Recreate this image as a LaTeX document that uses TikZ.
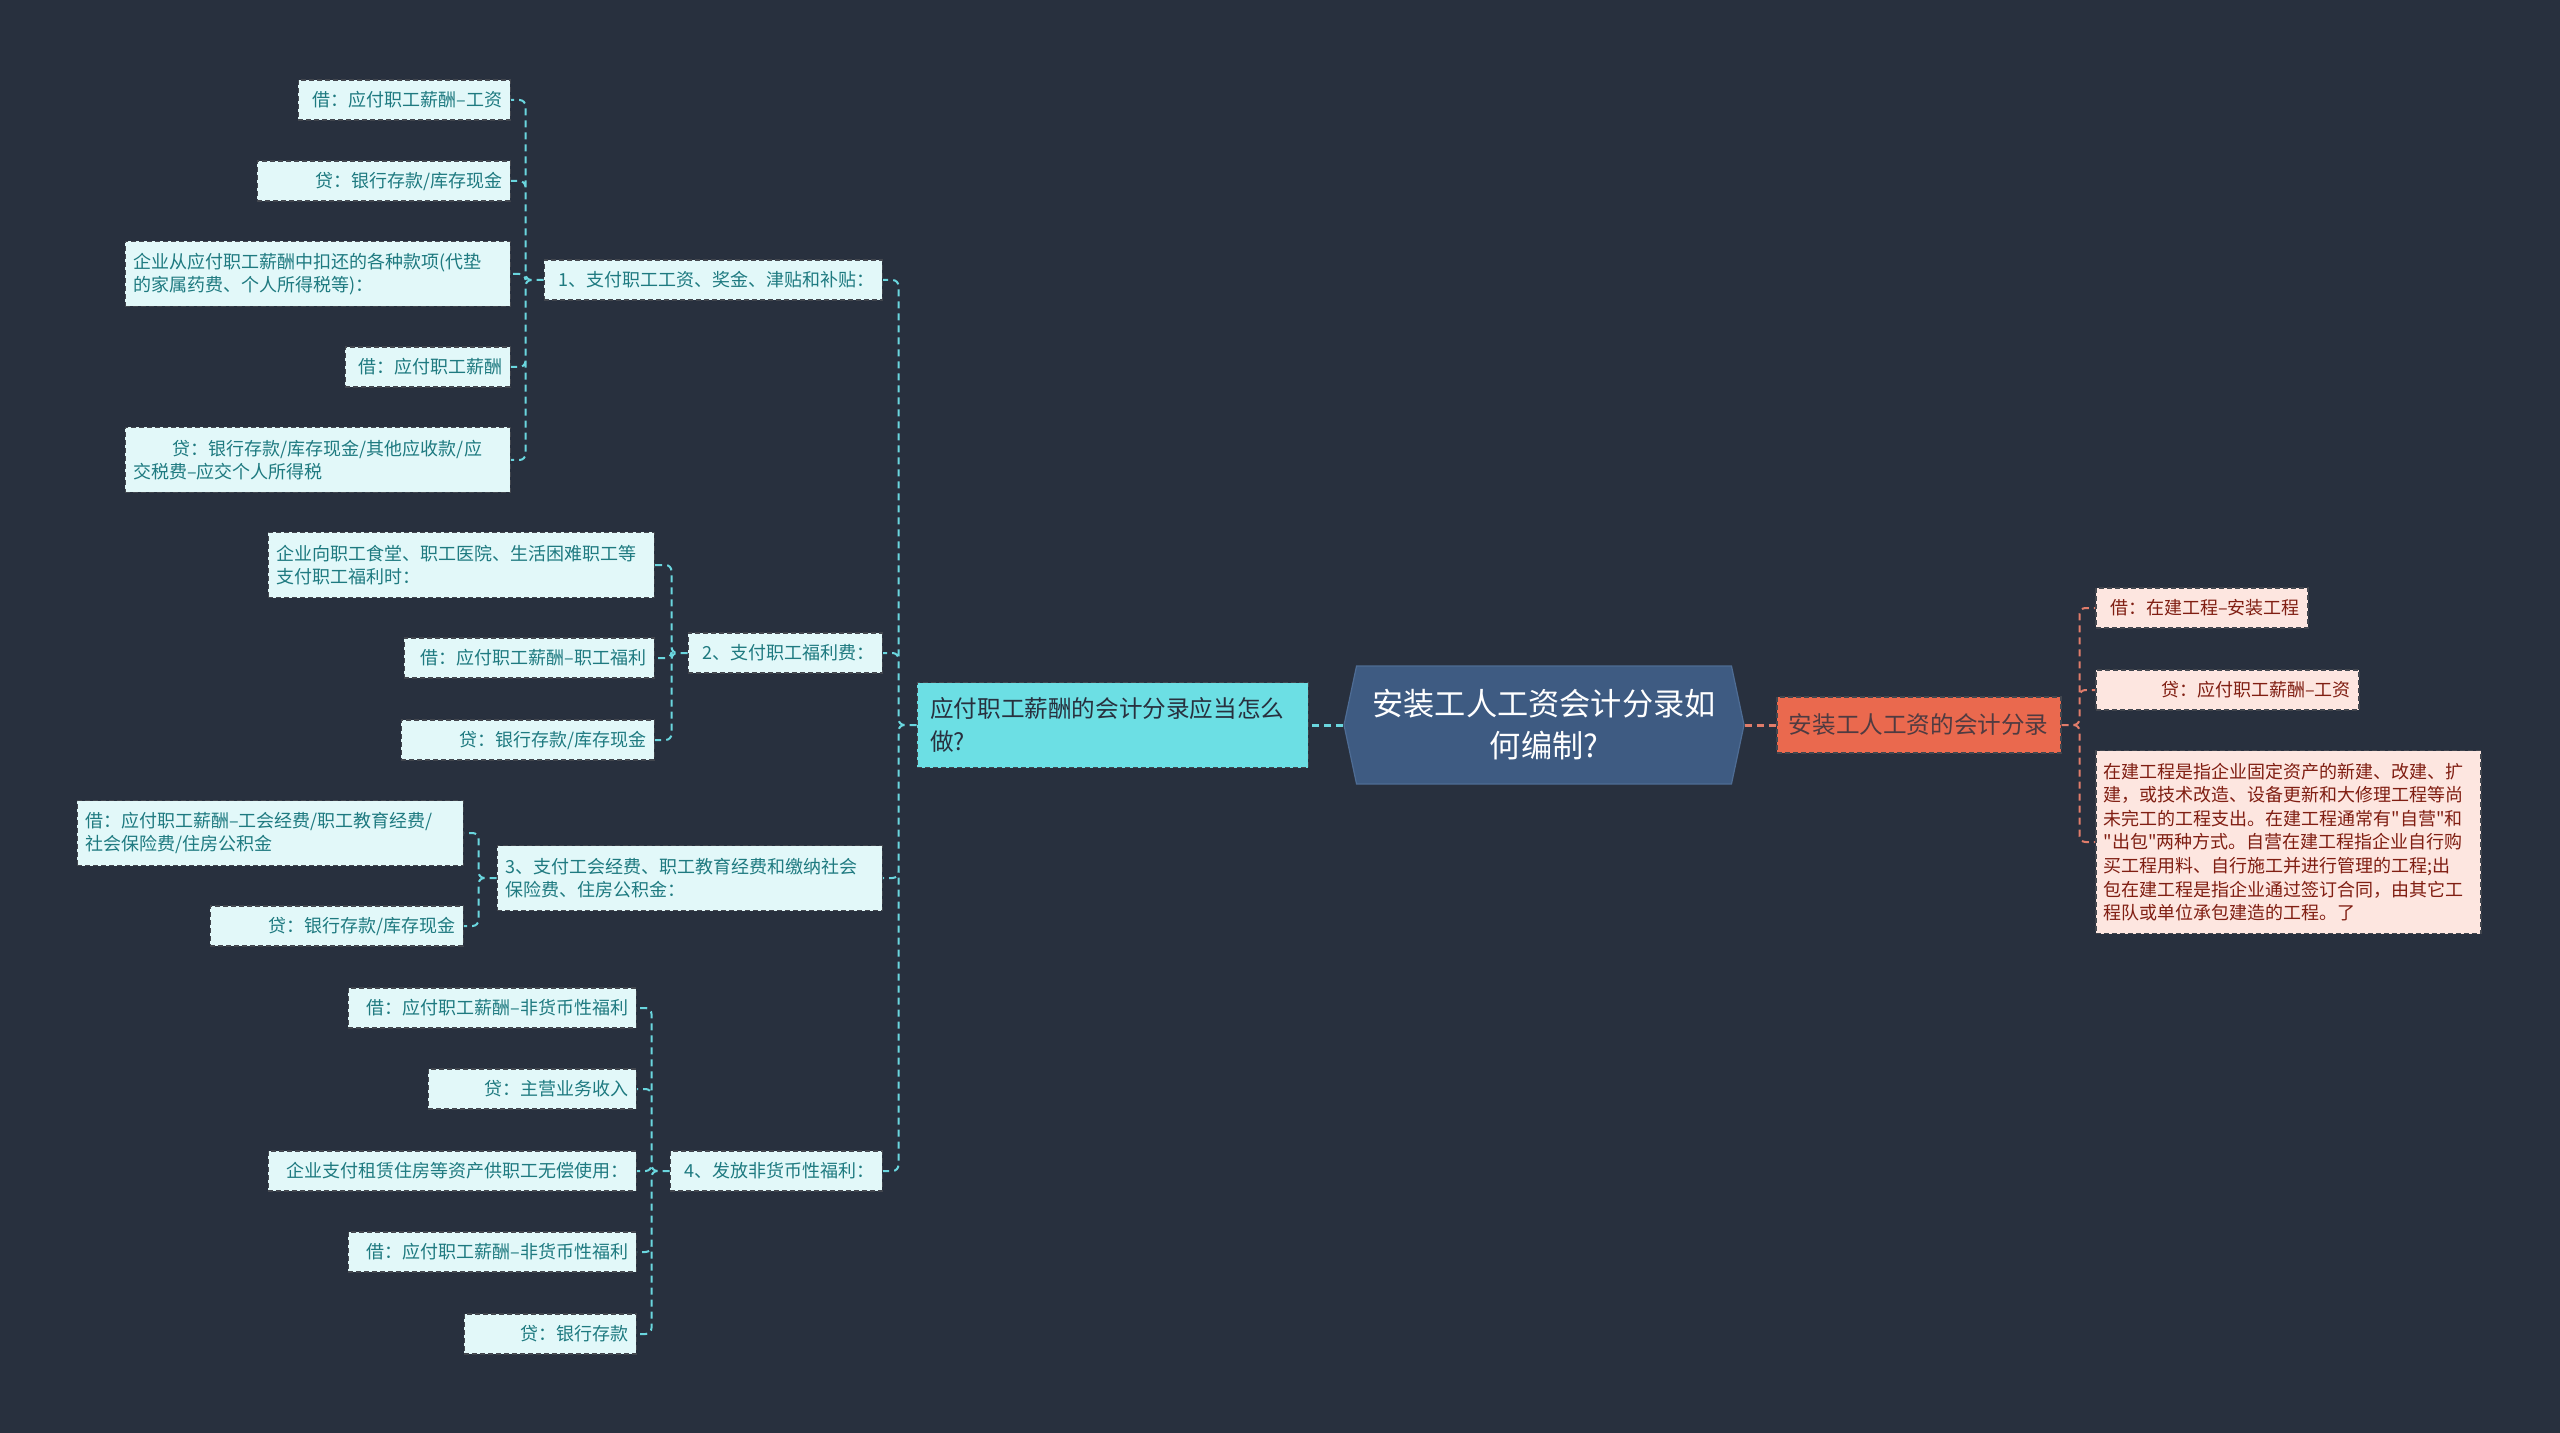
\documentclass[tikz,border=0pt]{standalone}
\usepackage{fontspec}
\setmainfont{Noto Sans CJK SC}[Ligatures=TeXOff]
\usepackage{tikz}
\usetikzlibrary{shapes.symbols}
\definecolor{bgNavy}{RGB}{40,48,62}
\definecolor{rootBlue}{RGB}{62,91,130}
\definecolor{rootEdge}{RGB}{78,108,148}
\definecolor{mainCyan}{RGB}{108,223,228}
\definecolor{mainCoral}{RGB}{234,105,78}
\definecolor{leafCyan}{RGB}{226,248,249}
\definecolor{leafPink}{RGB}{253,230,224}
\definecolor{tealText}{RGB}{30,122,128}
\definecolor{rustText}{RGB}{128,30,18}
\definecolor{lineCyan}{RGB}{106,214,222}
\definecolor{lineCoral}{RGB}{224,124,106}
\definecolor{edgeGray}{RGB}{66,70,78}

\begin{document}
\begin{tikzpicture}[x=0.5pt, y=-0.5pt,
    boxedge/.style={draw=edgeGray, line width=0.75pt, dash pattern=on 2.5pt off 1.5pt},
    leafL/.style={boxedge, fill=leafCyan, text=tealText, font=\fontsize{9}{11.8}\selectfont,
      inner xsep=4pt, inner ysep=3pt, minimum height=20pt, anchor=east, align=right},
    leafR/.style={boxedge, fill=leafPink, text=rustText, font=\fontsize{9}{11.8}\selectfont,
      inner xsep=4pt, inner ysep=3pt, minimum height=20pt, anchor=west, align=right},
    linkL/.style={lineCyan, line width=1pt, dash pattern=on 3.5pt off 2.5pt, rounded corners=3pt},
    linkR/.style={lineCoral, line width=1pt, dash pattern=on 3.5pt off 2.5pt, rounded corners=3pt}]
    % --- backdrop ---
    \fill[bgNavy] (0,0) rectangle (2560,1433);
    % --- centre topic ---
    \node[shape=signal, signal to=west and east, signal pointer angle=156,
          fill=rootBlue, draw=rootEdge, line width=0.6pt, text=white, align=center,
          font=\fontsize{15.6}{21}\selectfont, minimum width=200pt, minimum height=59pt]
      (root) at (1544,725) {安装工人工资会计分录如\\何编制?};
    % --- left branch ---
    \node[boxedge, fill=mainCyan, text=bgNavy, anchor=east, align=left,
          font=\fontsize{11.8}{16.5}\selectfont, inner xsep=6.5pt, text width=182.5pt,
          minimum height=42.5pt]
      (lm) at (1309,725) {应付职工薪酬的会计分录应当怎么\\做?};
    \node[leafL, text width=161pt] (g1) at (883,280) {1、支付职工工资、奖金、津贴和补贴：};
    \node[leafL, text width=89pt] (g2) at (883,653) {2、支付职工福利费：};
    \node[leafL, text width=184.5pt, align=left, minimum height=32.5pt] (g3) at (883,878)
      {3、支付工会经费、职工教育经费和缴纳社会\\保险费、住房公积金：};
    \node[leafL, text width=98pt] (g4) at (883,1171) {4、发放非货币性福利：};
    % --- group 1 leaves ---
    \node[leafL, text width=98pt] (l1a) at (511,100) {借：应付职工薪酬–工资};
    \node[leafL, text width=118.5pt] (l1b) at (511,181) {贷：银行存款/库存现金};
    \node[leafL, text width=184.5pt, align=left, minimum height=32.5pt] (l1c) at (511,274)
      {企业从应付职工薪酬中扣还的各种款项(代垫\\的家属药费、个人所得税等)：};
    \node[leafL, text width=74.5pt] (l1d) at (511,367) {借：应付职工薪酬};
    \node[leafL, text width=184.5pt, align=left, minimum height=32.5pt] (l1e) at (511,460)
      {\hspace*{2.2em}贷：银行存款/库存现金/其他应收款/应\\交税费–应交个人所得税};
    % --- group 2 leaves ---
    \node[leafL, text width=185pt, align=left, minimum height=32.5pt] (l2a) at (655,565)
      {企业向职工食堂、职工医院、生活困难职工等\\支付职工福利时：};
    \node[leafL, text width=117pt] (l2b) at (655,658) {借：应付职工薪酬–职工福利};
    \node[leafL, text width=118.5pt] (l2c) at (655,740) {贷：银行存款/库存现金};
    % --- group 3 leaves ---
    \node[leafL, text width=185pt, align=left, minimum height=32.5pt] (l3a) at (464,833)
      {借：应付职工薪酬–工会经费/职工教育经费/\\社会保险费/住房公积金};
    \node[leafL, text width=118.5pt] (l3b) at (464,926) {贷：银行存款/库存现金};
    % --- group 4 leaves ---
    \node[leafL, text width=136pt] (l4a) at (637,1008) {借：应付职工薪酬–非货币性福利};
    \node[leafL, text width=96pt] (l4b) at (637,1089) {贷：主营业务收入};
    \node[leafL, text width=176pt] (l4c) at (637,1171) {企业支付租赁住房等资产供职工无偿使用：};
    \node[leafL, text width=136pt] (l4d) at (637,1252) {借：应付职工薪酬–非货币性福利};
    \node[leafL, text width=78pt] (l4e) at (637,1334) {贷：银行存款};
    % --- right branch ---
    \node[boxedge, fill=mainCoral, text=bgNavy!80!mainCoral, anchor=west,
          font=\fontsize{11.8}{14}\selectfont, inner xsep=6pt, minimum width=142pt,
          minimum height=28pt]
      (rm) at (1776,725) {安装工人工资的会计分录};
    \node[leafR, text width=98pt] (r1) at (2095,608) {借：在建工程–安装工程};
    \node[leafR, text width=123.5pt] (r2) at (2095,690) {贷：应付职工薪酬–工资};
    \node[leafR, text width=184.5pt, align=left, minimum height=91.5pt] (r3) at (2095,842)
      {在建工程是指企业固定资产的新建、改建、扩\\
       建，或技术改造、设备更新和大修理工程等尚\\
       未完工的工程支出。在建工程通常有"自营"和\\
       "出包"两种方式。自营在建工程指企业自行购\\
       买工程用料、自行施工并进行管理的工程;出\\
       包在建工程是指企业通过签订合同，由其它工\\
       程队或单位承包建造的工程。了};
    % --- trunk links ---
    \draw[linkL, line width=1.5pt] (root.west) -- (lm.east);
    \draw[linkR, line width=1.5pt] (root.east) -- (rm.west);
    % --- left spine and groups ---
    \draw[linkL] (lm.west) -- ++(-18,0) |- (g1.east)
                 (lm.west) -- ++(-18,0) |- (g2.east)
                 (lm.west) -- ++(-18,0) |- (g3.east)
                 (lm.west) -- ++(-18,0) |- (g4.east);
    \draw[linkL] (g1.west) -- ++(-18,0) |- (l1a.east)
                 (g1.west) -- ++(-18,0) |- (l1b.east)
                 (g1.west) -- ++(-18,0) |- (l1c.east)
                 (g1.west) -- ++(-18,0) |- (l1d.east)
                 (g1.west) -- ++(-18,0) |- (l1e.east);
    \draw[linkL] (g2.west) -- ++(-16,0) |- (l2a.east)
                 (g2.west) -- ++(-16,0) |- (l2b.east)
                 (g2.west) -- ++(-16,0) |- (l2c.east);
    \draw[linkL] (g3.west) -- ++(-18,0) |- (l3a.east)
                 (g3.west) -- ++(-18,0) |- (l3b.east);
    \draw[linkL] (g4.west) -- ++(-18,0) |- (l4a.east)
                 (g4.west) -- ++(-18,0) |- (l4b.east)
                 (g4.west) -- ++(-18,0) |- (l4c.east)
                 (g4.west) -- ++(-18,0) |- (l4d.east)
                 (g4.west) -- ++(-18,0) |- (l4e.east);
    % --- right spine ---
    \draw[linkR] (rm.east) -- ++(18,0) |- (r1.west)
                 (rm.east) -- ++(18,0) |- (r2.west)
                 (rm.east) -- ++(18,0) |- (r3.west);
\end{tikzpicture}
\end{document}
